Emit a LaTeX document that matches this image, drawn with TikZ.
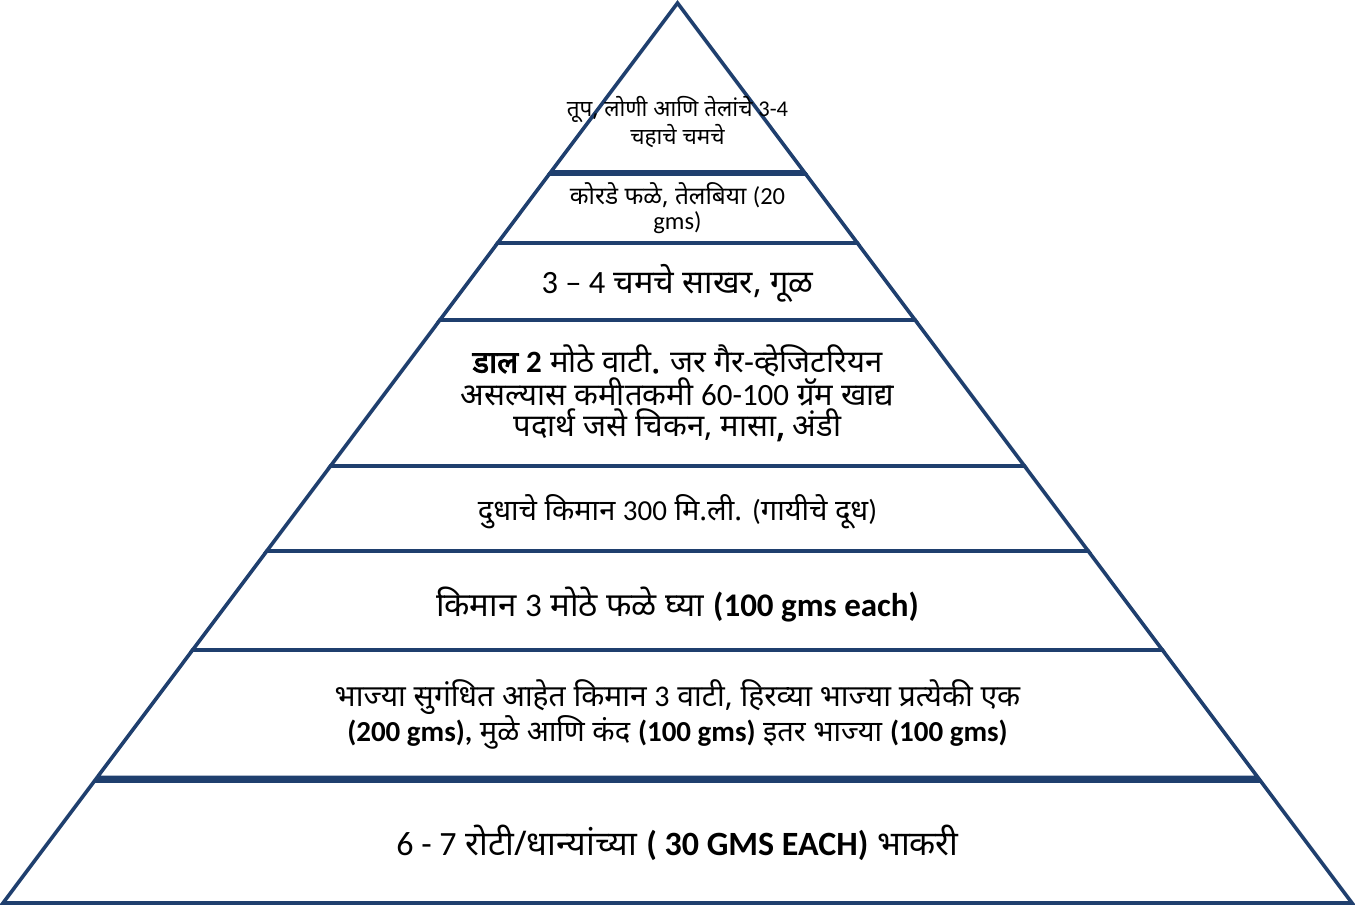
\documentclass[tikz,border=0pt]{standalone}
\usepackage{fontspec}
\setmainfont[Script=Devanagari, AutoFakeBold=2.8]{Noto Sans}
\newfontfamily\latfont{Carlito}
\newcommand{\latn}[1]{{\latfont #1}}
\usetikzlibrary{calc}
\definecolor{pyrblue}{HTML}{1F3F6E}

\begin{document}
\begin{tikzpicture}[
            x=1pt, y=-1pt,
            band/.style={draw=pyrblue, line width=3.6pt, line join=miter},
            lbl/.style={align=center, inner sep=0pt, text=black}
        ]
        \useasboundingbox (0,0) rectangle (1355,905);

        \coordinate (apex) at (677.5,3);
        \coordinate (bl) at (3,903);
        \coordinate (br) at (1352,903);

        % top triangle
        \draw[band] (apex) -- ($(apex)!{169/900}!(bl)$) -- ($(apex)!{169/900}!(br)$) -- cycle;

        % the bands below it, each one its own trapezoid
        \foreach \t/\b in {174/243, 243/320, 320/466, 466/551, 551/650, 650/777.5, 781/903}
            \draw[band] ($(apex)!{(\t-3)/900}!(bl)$) -- ($(apex)!{(\b-3)/900}!(bl)$)
                     -- ($(apex)!{(\b-3)/900}!(br)$) -- ($(apex)!{(\t-3)/900}!(br)$) -- cycle;

        \node[lbl, font=\fontsize{22.5}{22}\selectfont] (fats) at (677.5,122)
            {तूप, लोणी आणि तेलांचे \latn{3-4}\\चहाचे चमचे};
        \node[lbl, font=\fontsize{24.5}{25}\selectfont] (nuts) at (677.5,208)
            {कोरडे फळे, तेलबिया \latn{(20}\\\latn{gms)}};
        \node[lbl, font=\fontsize{32.5}{32}\selectfont] (sugar) at (677.5,283)
            {\latn{3 – 4} चमचे साखर, गूळ};
        \node[lbl, font=\fontsize{31}{31}\selectfont] (dal) at (677.5,393)
            {\textbf{डाल \latn{2}} मोठे वाटी\textbf{.} जर गैर-व्हेजिटरियन\\
             असल्यास कमीतकमी \latn{60-100} ग्रॅम खाद्य\\
             पदार्थ जसे चिकन, मासा\textbf{,} अंडी};
        \node[lbl, font=\fontsize{29}{30}\selectfont] (milk) at (677.5,512)
            {दुधाचे किमान \latn{300} मि.ली. \latn{(}गायीचे दूध\latn{)}};
        \node[lbl, font=\fontsize{33}{32}\selectfont] (fruit) at (677.5,605)
            {किमान \latn{3} मोठे फळे घ्या \textbf{\latn{(100 gms each)}}};
        \node[lbl, font=\fontsize{30}{34}\selectfont] (veg) at (677.5,714)
            {भाज्या सुगंधित आहेत किमान \latn{3} वाटी, हिरव्या भाज्या प्रत्येकी एक\\
             \fontsize{29}{34}\selectfont
             \textbf{\latn{(200 gms),}} मुळे आणि कंद \textbf{\latn{(100 gms)}} इतर भाज्या \textbf{\latn{(100 gms)}}};
        \node[lbl, font=\fontsize{34}{34}\selectfont] (grain) at (677.5,843)
            {\latn{6 - 7} रोटी/धान्यांच्या \textbf{\latn{( 30 GMS EACH)}} भाकरी};
\end{tikzpicture}
\end{document}
